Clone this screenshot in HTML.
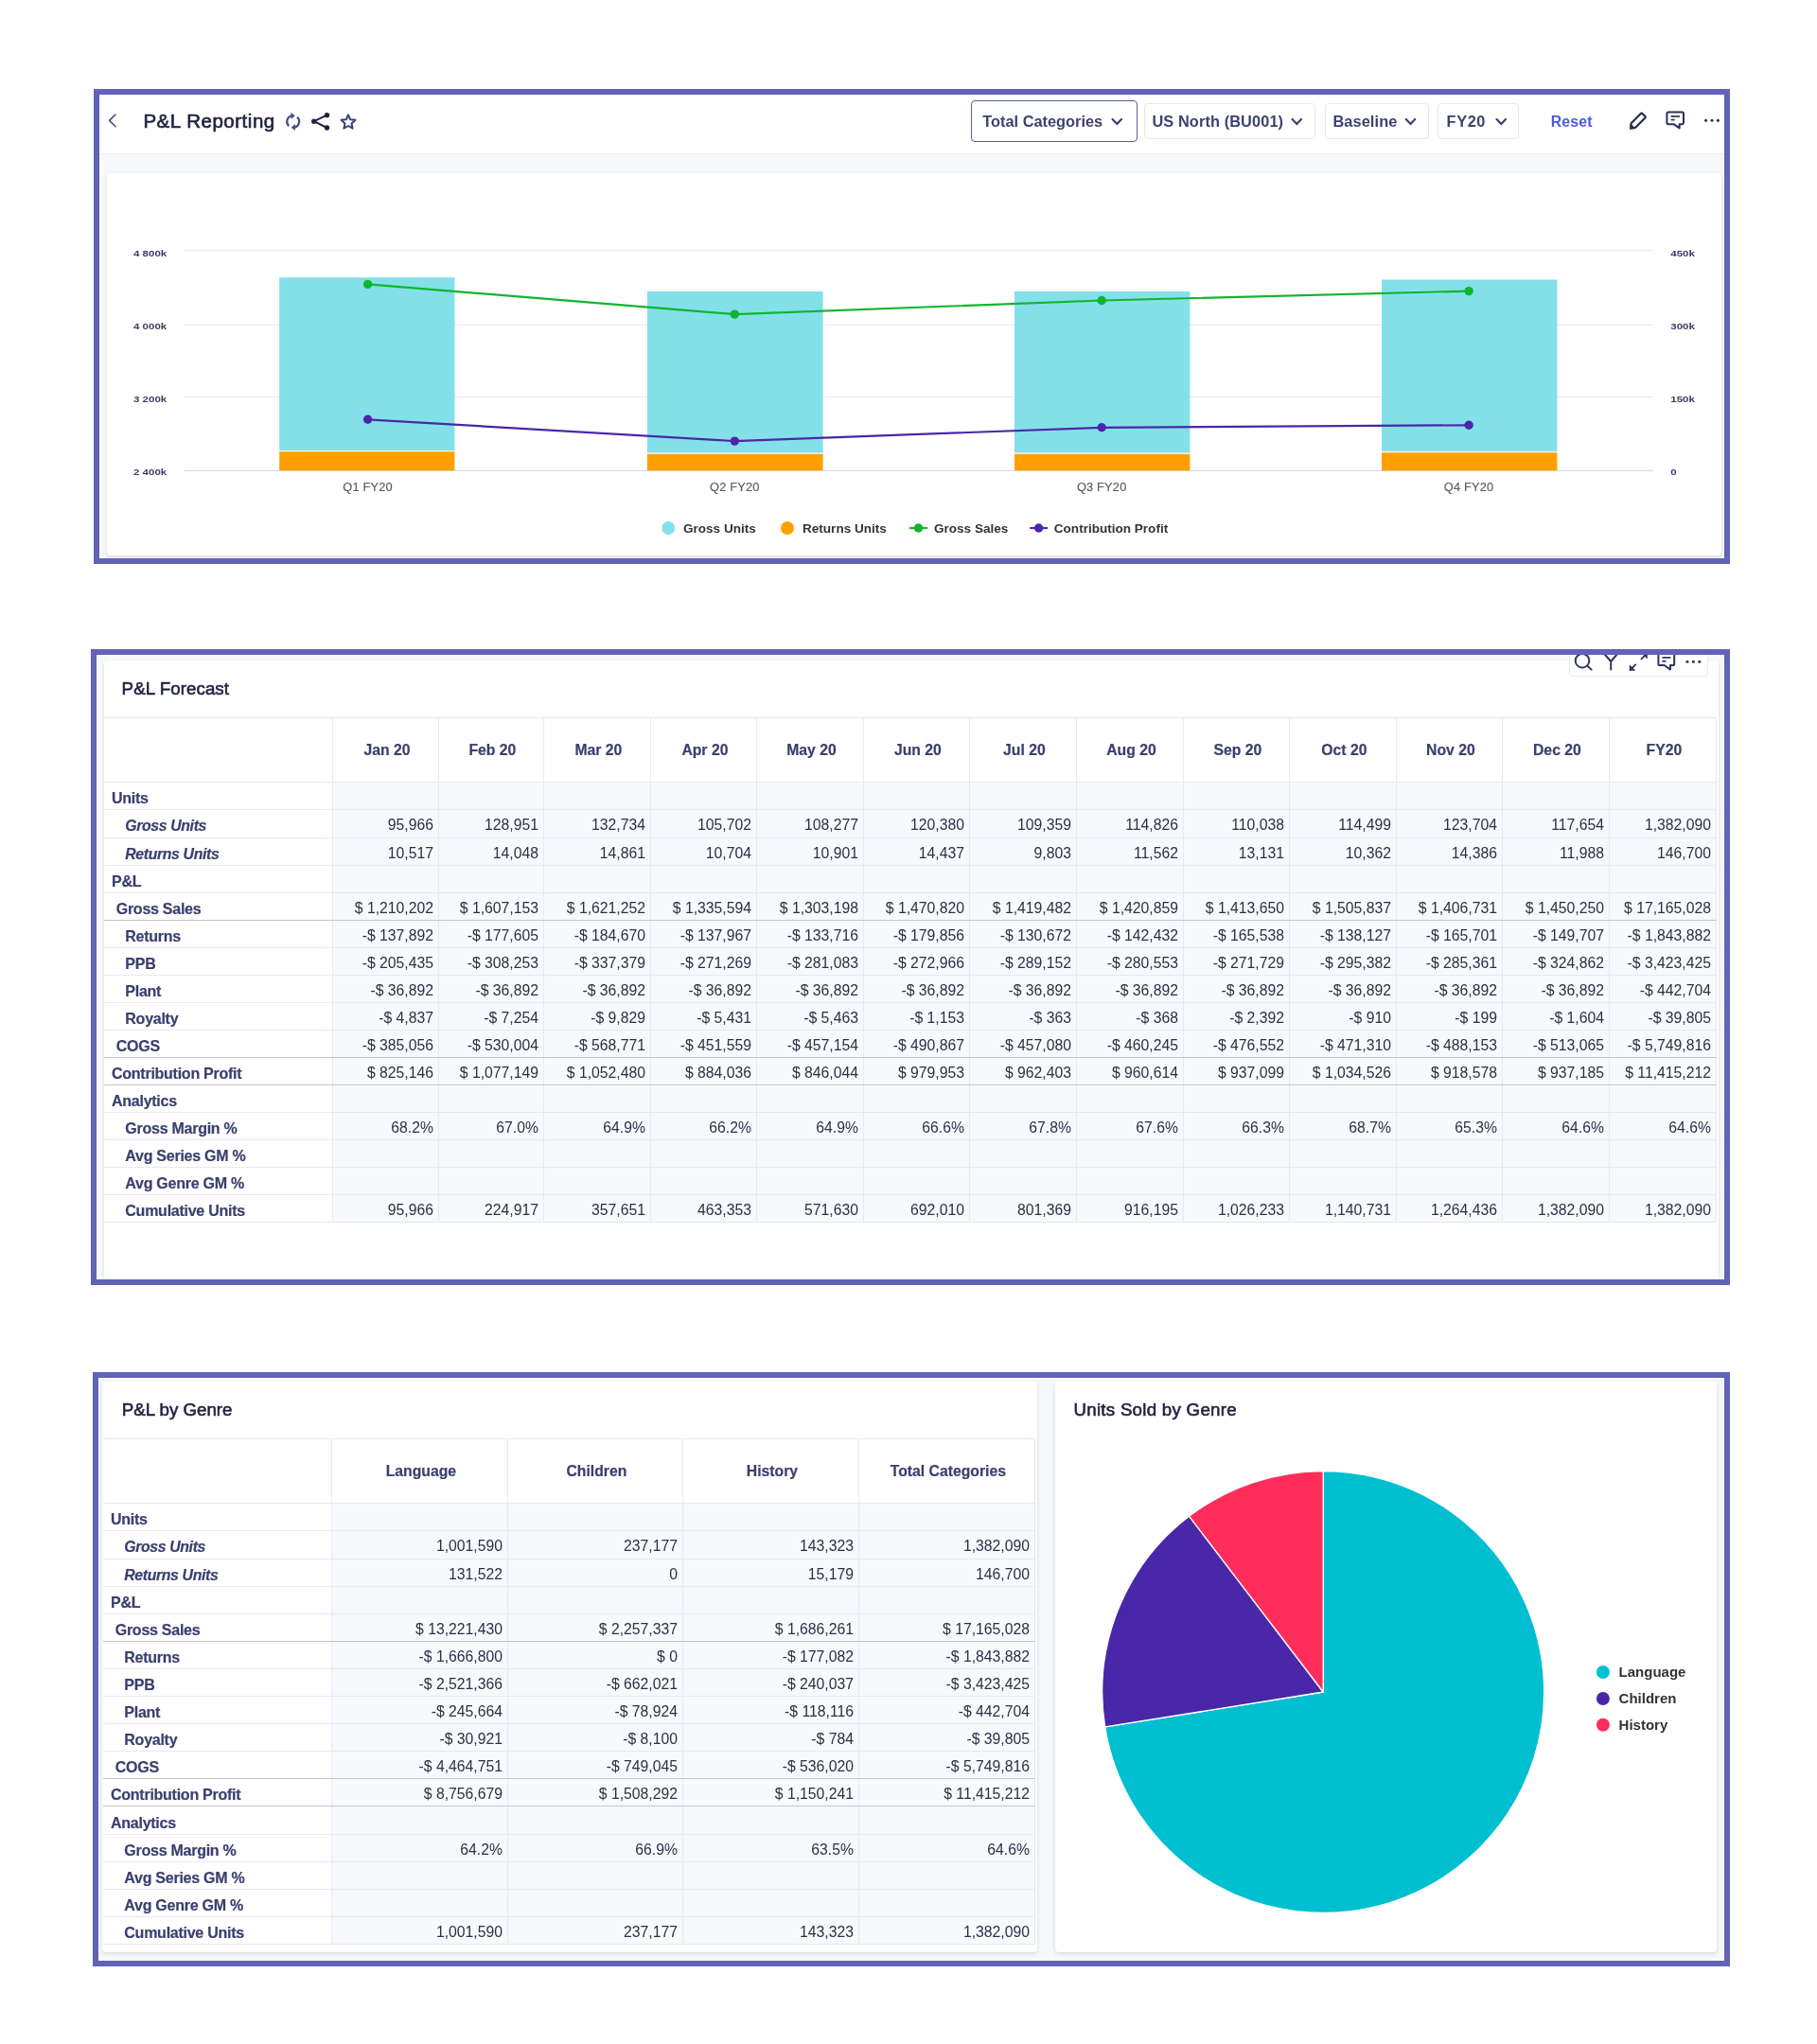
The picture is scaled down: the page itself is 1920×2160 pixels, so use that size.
<!DOCTYPE html>
<html lang="en">
<head>
<meta charset="utf-8">
<title>P&amp;L Reporting</title>
<style>

html,body{margin:0;padding:0;}
body{width:1920px;height:2160px;background:#fff;position:relative;overflow:hidden;
  font-family:"Liberation Sans",sans-serif;color:#1f2240;}
.frame{position:absolute;box-sizing:border-box;border:6px solid #6262b6;background:#f7f8fa;overflow:hidden;}
.pg{position:absolute;will-change:transform;}
.abs{position:absolute;}
.card{position:absolute;background:#fff;border-radius:4px;box-shadow:0 2px 4px rgba(20,20,50,.13),0 0 2px rgba(20,20,50,.045);}
.t{position:absolute;white-space:nowrap;line-height:1;}
.ctitle{font-size:18.7px;color:#1f2240;-webkit-text-stroke:.6px #1f2240;}
.dd{position:absolute;box-sizing:border-box;border:1px solid #e6e8f1;border-radius:4px;background:#fff;}
.ddt{font-size:16.35px;font-weight:bold;color:#3d4270;}
/* tables */
.row{position:absolute;left:0;display:flex;font-size:15.75px;box-sizing:border-box;border-bottom:1px solid #e7e9f4;}
.row.dk{border-bottom-color:#c3c6cf;}
.c{box-sizing:border-box;border-right:1px solid #e7e9f4;flex:none;height:100%;
  display:flex;align-items:center;justify-content:flex-end;padding-right:5px;color:#2c3142;background:#f8f9fd;white-space:nowrap;}
.c.l{justify-content:flex-start;padding-right:0;background:#fff;font-weight:bold;color:#3a3f6e;font-size:16.05px;letter-spacing:-.27px;-webkit-text-stroke:.2px #3a3f6e;}
.c.h{justify-content:center;padding-right:0;padding-left:2.8px;padding-top:1.4px;background:#fff;font-weight:bold;color:#3a3f6e;-webkit-text-stroke:.2px #3a3f6e;}
.c.l.i{font-style:italic;font-size:15.8px;letter-spacing:-.35px;}

</style>
</head>
<body>
<div class="frame" style="left:99px;top:94px;width:1729px;height:502px;">
<div class="pg" style="left:-105px;top:-100px;width:1920px;height:700px;">
<div class="abs" style="left:100px;top:94px;width:1730px;height:68px;background:#fff;border-bottom:1px solid #ececf2;"></div>
<div class="t" style="left:151.4px;top:118px;font-size:20.5px;letter-spacing:.52px;color:#1f2240;-webkit-text-stroke:.65px #1f2240;">P&amp;L Reporting</div>
<div class="dd" style="left:1026px;top:106px;width:176px;height:44px;border:1.5px solid #5a5f9c;border-radius:4px;"></div>
<div class="dd" style="left:1209px;top:109px;width:181px;height:38px;"></div>
<div class="dd" style="left:1399.5px;top:109px;width:110px;height:38px;"></div>
<div class="dd" style="left:1519px;top:109px;width:86px;height:38px;"></div>
<div class="t ddt" style="left:1038.3px;top:120.2px;">Total Categories</div>
<div class="t ddt" style="left:1217.4px;top:120.2px;letter-spacing:.1px;">US North (BU001)</div>
<div class="t ddt" style="left:1408.4px;top:120.2px;letter-spacing:.1px;">Baseline</div>
<div class="t ddt" style="left:1528.6px;top:120.2px;letter-spacing:.6px;">FY20</div>
<div class="t" style="left:1638.8px;top:120.5px;letter-spacing:.15px;font-size:15.8px;font-weight:bold;color:#4a5be0;">Reset</div>
<div class="card" style="left:113px;top:182.5px;width:1706px;height:404px;"></div>
<svg class="abs" style="left:0;top:0" width="1920" height="700" viewBox="0 0 1920 700">
<path d="M122 121 L115.6 127.4 L122 133.8" fill="none" stroke="#4a4f80" stroke-width="1.6" stroke-linecap="round" stroke-linejoin="round"/>
<g transform="translate(309.7 128.5)" fill="none" stroke="#474c85" stroke-width="2.2" stroke-linecap="butt"><path d="M-1.6 -6.2 A6.4 6.4 0 0 0 -4.4 4.7"/><path d="M1.6 6.2 A6.4 6.4 0 0 0 4.4 -4.7"/><path d="M-2.2 -9.6 L2 -6.2 L-2.2 -2.6 Z" fill="#474c85" stroke="none"/><path d="M2.2 9.6 L-2 6.2 L2.2 2.6 Z" fill="#474c85" stroke="none"/></g>
<g fill="#1f2240" stroke="#1f2240"><path d="M345.5 121.7 L331.8 128.2 L345.5 135" fill="none" stroke-width="2" stroke-linejoin="round"/><circle cx="345.5" cy="121.7" r="2.7" stroke="none"/><circle cx="331.8" cy="128.2" r="2.7" stroke="none"/><circle cx="345.5" cy="135" r="2.7" stroke="none"/></g>
<polygon points="368.00,121.40 370.17,126.31 375.51,126.86 371.52,130.44 372.64,135.69 368.00,133.00 363.36,135.69 364.48,130.44 360.49,126.86 365.83,126.31" fill="none" stroke="#3a3f75" stroke-width="2" stroke-linejoin="round"/>
<path d="M1175.55 126.10 L1180.30 131.10 L1185.05 126.10" fill="none" stroke="#3d4270" stroke-width="2.2" stroke-linecap="round" stroke-linejoin="round"/>
<path d="M1365.55 126.10 L1370.30 131.10 L1375.05 126.10" fill="none" stroke="#3d4270" stroke-width="2.2" stroke-linecap="round" stroke-linejoin="round"/>
<path d="M1485.75 126.10 L1490.50 131.10 L1495.25 126.10" fill="none" stroke="#3d4270" stroke-width="2.2" stroke-linecap="round" stroke-linejoin="round"/>
<path d="M1581.55 126.10 L1586.30 131.10 L1591.05 126.10" fill="none" stroke="#3d4270" stroke-width="2.2" stroke-linecap="round" stroke-linejoin="round"/>
<g fill="none" stroke="#2b2f55" stroke-width="2.3" stroke-linejoin="round" stroke-linecap="round"><path d="M1723 135.6 L1723.6 130.2 L1733.6 120.2 Q1734.6 119.2 1735.6 120.2 L1738.2 122.8 Q1739.2 123.8 1738.2 124.8 L1728.2 134.8 Z"/><path d="M1723 135.6 L1723.5 131.4 L1727.2 135.1 Z" fill="#2b2f55" stroke-width="1"/></g>
<g fill="none" stroke="#2b2f55" stroke-width="2" stroke-linejoin="round" stroke-linecap="butt"><path d="M1763 118.4 H1777.4 Q1779 118.4 1779 120 V129.6 Q1779 131.2 1777.4 131.2 H1774.6 V135.4 L1768.4 131.2 H1763 Q1761.4 131.2 1761.4 129.6 V120 Q1761.4 118.4 1763 118.4 Z"/><path d="M1765.6 123 H1775" stroke-width="1.7"/><path d="M1765.6 126.6 H1769.6" stroke-width="1.7"/></g>
<circle cx="1802.6" cy="127.2" r="1.55" fill="#2b2f55"/>
<circle cx="1809" cy="127.2" r="1.55" fill="#2b2f55"/>
<circle cx="1815.4" cy="127.2" r="1.55" fill="#2b2f55"/>
<rect x="194.7" y="264.20" width="1552.3" height="1" fill="#e6e6e6"/>
<rect x="194.7" y="342.70" width="1552.3" height="1" fill="#e6e6e6"/>
<rect x="194.7" y="419.00" width="1552.3" height="1" fill="#e6e6e6"/>
<rect x="194.7" y="496.80" width="1552.3" height="1" fill="#ccd6eb"/>
<rect x="295.2" y="293.2" width="185.2" height="182.8" fill="#84e0e8"/>
<rect x="295.2" y="476.0" width="185.2" height="1.3" fill="#fdf3d8"/>
<rect x="295.2" y="477.3" width="185.2" height="20.0" fill="#ffa000"/>
<rect x="683.9" y="307.9" width="185.7" height="170.7" fill="#84e0e8"/>
<rect x="683.9" y="478.6" width="185.7" height="1.3" fill="#fdf3d8"/>
<rect x="683.9" y="479.9" width="185.7" height="17.4" fill="#ffa000"/>
<rect x="1072.0" y="307.9" width="185.4" height="170.7" fill="#84e0e8"/>
<rect x="1072.0" y="478.6" width="185.4" height="1.3" fill="#fdf3d8"/>
<rect x="1072.0" y="479.9" width="185.4" height="17.4" fill="#ffa000"/>
<rect x="1460.0" y="295.5" width="185.4" height="181.4" fill="#84e0e8"/>
<rect x="1460.0" y="476.9" width="185.4" height="1.5" fill="#fdf3d8"/>
<rect x="1460.0" y="478.4" width="185.4" height="18.9" fill="#ffa000"/>
<polyline points="388.6,300.4 776.3,332.1 1164.2,317.5 1552.1,307.6" fill="none" stroke="#0fb52e" stroke-width="2.2" stroke-linejoin="round" stroke-linecap="round"/>
<circle cx="388.6" cy="300.4" r="4.7" fill="#0fb52e"/>
<circle cx="776.3" cy="332.1" r="4.7" fill="#0fb52e"/>
<circle cx="1164.2" cy="317.5" r="4.7" fill="#0fb52e"/>
<circle cx="1552.1" cy="307.6" r="4.7" fill="#0fb52e"/>
<polyline points="388.6,443.3 776.3,466.1 1164.2,451.8 1552.1,449.3" fill="none" stroke="#4a27a8" stroke-width="2.2" stroke-linejoin="round" stroke-linecap="round"/>
<circle cx="388.6" cy="443.3" r="4.7" fill="#4a27a8"/>
<circle cx="776.3" cy="466.1" r="4.7" fill="#4a27a8"/>
<circle cx="1164.2" cy="451.8" r="4.7" fill="#4a27a8"/>
<circle cx="1552.1" cy="449.3" r="4.7" fill="#4a27a8"/>
<circle cx="706.2" cy="558" r="7" fill="#84e0e8"/>
<circle cx="832" cy="558" r="7" fill="#ffa000"/>
<path d="M961 558 H980" stroke="#0fb52e" stroke-width="2.2"/><circle cx="970.5" cy="558" r="4.7" fill="#0fb52e"/>
<path d="M1088.2 558 H1107" stroke="#4a27a8" stroke-width="2.2"/><circle cx="1097.6" cy="558" r="4.7" fill="#4a27a8"/>
</svg>
<div class="t" style="left:141px;top:262.3px;font-size:11.5px;font-weight:bold;color:#3d3d66;transform:scaleY(.86);transform-origin:50% 50%;">4 800k</div>
<div class="t" style="left:141px;top:338.6px;font-size:11.5px;font-weight:bold;color:#3d3d66;transform:scaleY(.86);transform-origin:50% 50%;">4 000k</div>
<div class="t" style="left:141px;top:416.0px;font-size:11.5px;font-weight:bold;color:#3d3d66;transform:scaleY(.86);transform-origin:50% 50%;">3 200k</div>
<div class="t" style="left:141px;top:493.4px;font-size:11.5px;font-weight:bold;color:#3d3d66;transform:scaleY(.86);transform-origin:50% 50%;">2 400k</div>
<div class="t" style="left:1765.3px;top:262.3px;font-size:11.5px;font-weight:bold;color:#3d3d66;transform:scaleY(.86);transform-origin:50% 50%;">450k</div>
<div class="t" style="left:1765.3px;top:338.6px;font-size:11.5px;font-weight:bold;color:#3d3d66;transform:scaleY(.86);transform-origin:50% 50%;">300k</div>
<div class="t" style="left:1765.3px;top:416.0px;font-size:11.5px;font-weight:bold;color:#3d3d66;transform:scaleY(.86);transform-origin:50% 50%;">150k</div>
<div class="t" style="left:1765.3px;top:493.4px;font-size:11.5px;font-weight:bold;color:#3d3d66;transform:scaleY(.86);transform-origin:50% 50%;">0</div>
<div class="t" style="left:348.6px;width:80px;text-align:center;top:508.8px;font-size:12.8px;letter-spacing:.2px;color:#5c5c5c;-webkit-text-stroke:.15px #5c5c5c;">Q1 FY20</div>
<div class="t" style="left:736.3px;width:80px;text-align:center;top:508.8px;font-size:12.8px;letter-spacing:.2px;color:#5c5c5c;-webkit-text-stroke:.15px #5c5c5c;">Q2 FY20</div>
<div class="t" style="left:1124.2px;width:80px;text-align:center;top:508.8px;font-size:12.8px;letter-spacing:.2px;color:#5c5c5c;-webkit-text-stroke:.15px #5c5c5c;">Q3 FY20</div>
<div class="t" style="left:1512.1px;width:80px;text-align:center;top:508.8px;font-size:12.8px;letter-spacing:.2px;color:#5c5c5c;-webkit-text-stroke:.15px #5c5c5c;">Q4 FY20</div>
<div class="t" style="left:722px;font-size:13.55px;font-weight:bold;color:#333;top:551.8px;">Gross Units</div>
<div class="t" style="left:848px;font-size:13.55px;font-weight:bold;color:#333;top:551.8px;">Returns Units</div>
<div class="t" style="left:987px;font-size:13.55px;font-weight:bold;color:#333;top:551.8px;">Gross Sales</div>
<div class="t" style="left:1113.8px;font-size:13.55px;font-weight:bold;color:#333;top:551.8px;">Contribution Profit</div>
</div></div>
<div class="frame" style="left:96px;top:686px;width:1732px;height:672px;">
<div class="pg" style="left:-102px;top:-692px;width:1920px;height:1500px;">
<div class="card" style="left:109.5px;top:697.6px;width:1706.5px;height:720px;"></div>
<div class="abs" style="left:1658px;top:684px;width:147px;height:31px;box-sizing:border-box;border:1px solid #e8eaf2;border-radius:3px;background:#fff;"></div>
<svg class="abs" style="left:0;top:600px" width="1920" height="200" viewBox="0 600 1920 200">
<circle cx="1672" cy="698.2" r="7.3" fill="none" stroke="#2f3460" stroke-width="2"/>
<path d="M1677.4 703.6 L1681.6 707.6" stroke="#2f3460" stroke-width="2" stroke-linecap="round"/>
<path d="M1693.6 689 L1702.2 699 L1710.8 689 M1702.2 699 V707.6" fill="none" stroke="#2f3460" stroke-width="2" stroke-linecap="round" stroke-linejoin="round"/>
<path d="M1728.2 702.4 L1722.6 708" stroke="#2f3460" stroke-width="1.8" stroke-linecap="round"/>
<path d="M1721.8 702.2 V708.8 H1728.4 Z" fill="#2f3460"/>
<path d="M1734.4 696.4 L1740 690.8" stroke="#2f3460" stroke-width="1.8" stroke-linecap="round"/>
<path d="M1740.8 696.6 V690 H1734.2 Z" fill="#2f3460"/>
<g fill="none" stroke="#2f3460" stroke-width="2" stroke-linejoin="round"><path d="M1754 689.6 H1767.6 Q1769.2 689.6 1769.2 691.2 V701.4 Q1769.2 703 1767.6 703 H1765 V707.6 L1758.6 703 H1754 Q1752.4 703 1752.4 701.4 V691.2 Q1752.4 689.6 1754 689.6 Z"/><path d="M1756.4 694.9 H1765.4" stroke-width="1.7"/><path d="M1756.4 698.8 H1760.4" stroke-width="1.7"/></g>
<circle cx="1783" cy="699.3" r="1.55" fill="#2f3460"/>
<circle cx="1789.4" cy="699.3" r="1.55" fill="#2f3460"/>
<circle cx="1795.8" cy="699.3" r="1.55" fill="#2f3460"/>
</svg>
<div class="t ctitle" style="left:128.6px;top:719px;letter-spacing:.08px;">P&amp;L Forecast</div>
<div class="abs" style="left:110px;top:758px;width:1704px;height:1px;background:#e7e9f4;"></div>
<div class="row" style="left:110px;top:759px;width:1704px;height:68px;">
<div class="c h" style="width:242px;"></div>
<div class="c h" style="width:112px;">Jan 20</div>
<div class="c h" style="width:111px;">Feb 20</div>
<div class="c h" style="width:113px;">Mar 20</div>
<div class="c h" style="width:112px;">Apr 20</div>
<div class="c h" style="width:113px;">May 20</div>
<div class="c h" style="width:112px;">Jun 20</div>
<div class="c h" style="width:113px;">Jul 20</div>
<div class="c h" style="width:113px;">Aug 20</div>
<div class="c h" style="width:112px;">Sep 20</div>
<div class="c h" style="width:113px;">Oct 20</div>
<div class="c h" style="width:112px;">Nov 20</div>
<div class="c h" style="width:113px;">Dec 20</div>
<div class="c h" style="width:113px;">FY20</div>
</div>
<div class="row" style="left:110px;top:827px;width:1704px;height:29px;">
<div class="c l" style="width:242px;padding-left:8px;padding-top:5.8px;">Units</div>
<div class="c" style="width:112px;padding-top:3.4px;"></div>
<div class="c" style="width:111px;padding-top:3.4px;"></div>
<div class="c" style="width:113px;padding-top:3.4px;"></div>
<div class="c" style="width:112px;padding-top:3.4px;"></div>
<div class="c" style="width:113px;padding-top:3.4px;"></div>
<div class="c" style="width:112px;padding-top:3.4px;"></div>
<div class="c" style="width:113px;padding-top:3.4px;"></div>
<div class="c" style="width:113px;padding-top:3.4px;"></div>
<div class="c" style="width:112px;padding-top:3.4px;"></div>
<div class="c" style="width:113px;padding-top:3.4px;"></div>
<div class="c" style="width:112px;padding-top:3.4px;"></div>
<div class="c" style="width:113px;padding-top:3.4px;"></div>
<div class="c" style="width:113px;padding-top:3.4px;"></div>
</div>
<div class="row" style="left:110px;top:856px;width:1704px;height:30px;">
<div class="c l i" style="width:242px;padding-left:22.3px;padding-top:5.8px;">Gross Units</div>
<div class="c" style="width:112px;padding-top:3.4px;">95,966</div>
<div class="c" style="width:111px;padding-top:3.4px;">128,951</div>
<div class="c" style="width:113px;padding-top:3.4px;">132,734</div>
<div class="c" style="width:112px;padding-top:3.4px;">105,702</div>
<div class="c" style="width:113px;padding-top:3.4px;">108,277</div>
<div class="c" style="width:112px;padding-top:3.4px;">120,380</div>
<div class="c" style="width:113px;padding-top:3.4px;">109,359</div>
<div class="c" style="width:113px;padding-top:3.4px;">114,826</div>
<div class="c" style="width:112px;padding-top:3.4px;">110,038</div>
<div class="c" style="width:113px;padding-top:3.4px;">114,499</div>
<div class="c" style="width:112px;padding-top:3.4px;">123,704</div>
<div class="c" style="width:113px;padding-top:3.4px;">117,654</div>
<div class="c" style="width:113px;padding-top:3.4px;">1,382,090</div>
</div>
<div class="row" style="left:110px;top:886px;width:1704px;height:29px;">
<div class="c l i" style="width:242px;padding-left:22.3px;padding-top:5.8px;">Returns Units</div>
<div class="c" style="width:112px;padding-top:3.4px;">10,517</div>
<div class="c" style="width:111px;padding-top:3.4px;">14,048</div>
<div class="c" style="width:113px;padding-top:3.4px;">14,861</div>
<div class="c" style="width:112px;padding-top:3.4px;">10,704</div>
<div class="c" style="width:113px;padding-top:3.4px;">10,901</div>
<div class="c" style="width:112px;padding-top:3.4px;">14,437</div>
<div class="c" style="width:113px;padding-top:3.4px;">9,803</div>
<div class="c" style="width:113px;padding-top:3.4px;">11,562</div>
<div class="c" style="width:112px;padding-top:3.4px;">13,131</div>
<div class="c" style="width:113px;padding-top:3.4px;">10,362</div>
<div class="c" style="width:112px;padding-top:3.4px;">14,386</div>
<div class="c" style="width:113px;padding-top:3.4px;">11,988</div>
<div class="c" style="width:113px;padding-top:3.4px;">146,700</div>
</div>
<div class="row" style="left:110px;top:915px;width:1704px;height:29px;">
<div class="c l" style="width:242px;padding-left:8px;padding-top:5.8px;">P&amp;L</div>
<div class="c" style="width:112px;padding-top:3.4px;"></div>
<div class="c" style="width:111px;padding-top:3.4px;"></div>
<div class="c" style="width:113px;padding-top:3.4px;"></div>
<div class="c" style="width:112px;padding-top:3.4px;"></div>
<div class="c" style="width:113px;padding-top:3.4px;"></div>
<div class="c" style="width:112px;padding-top:3.4px;"></div>
<div class="c" style="width:113px;padding-top:3.4px;"></div>
<div class="c" style="width:113px;padding-top:3.4px;"></div>
<div class="c" style="width:112px;padding-top:3.4px;"></div>
<div class="c" style="width:113px;padding-top:3.4px;"></div>
<div class="c" style="width:112px;padding-top:3.4px;"></div>
<div class="c" style="width:113px;padding-top:3.4px;"></div>
<div class="c" style="width:113px;padding-top:3.4px;"></div>
</div>
<div class="row dk" style="left:110px;top:944px;width:1704px;height:29px;">
<div class="c l" style="width:242px;padding-left:12.7px;padding-top:5.8px;">Gross Sales</div>
<div class="c" style="width:112px;padding-top:3.4px;">$ 1,210,202</div>
<div class="c" style="width:111px;padding-top:3.4px;">$ 1,607,153</div>
<div class="c" style="width:113px;padding-top:3.4px;">$ 1,621,252</div>
<div class="c" style="width:112px;padding-top:3.4px;">$ 1,335,594</div>
<div class="c" style="width:113px;padding-top:3.4px;">$ 1,303,198</div>
<div class="c" style="width:112px;padding-top:3.4px;">$ 1,470,820</div>
<div class="c" style="width:113px;padding-top:3.4px;">$ 1,419,482</div>
<div class="c" style="width:113px;padding-top:3.4px;">$ 1,420,859</div>
<div class="c" style="width:112px;padding-top:3.4px;">$ 1,413,650</div>
<div class="c" style="width:113px;padding-top:3.4px;">$ 1,505,837</div>
<div class="c" style="width:112px;padding-top:3.4px;">$ 1,406,731</div>
<div class="c" style="width:113px;padding-top:3.4px;">$ 1,450,250</div>
<div class="c" style="width:113px;padding-top:3.4px;">$ 17,165,028</div>
</div>
<div class="row" style="left:110px;top:973px;width:1704px;height:29px;">
<div class="c l" style="width:242px;padding-left:22.3px;padding-top:5.8px;">Returns</div>
<div class="c" style="width:112px;padding-top:3.4px;">-$ 137,892</div>
<div class="c" style="width:111px;padding-top:3.4px;">-$ 177,605</div>
<div class="c" style="width:113px;padding-top:3.4px;">-$ 184,670</div>
<div class="c" style="width:112px;padding-top:3.4px;">-$ 137,967</div>
<div class="c" style="width:113px;padding-top:3.4px;">-$ 133,716</div>
<div class="c" style="width:112px;padding-top:3.4px;">-$ 179,856</div>
<div class="c" style="width:113px;padding-top:3.4px;">-$ 130,672</div>
<div class="c" style="width:113px;padding-top:3.4px;">-$ 142,432</div>
<div class="c" style="width:112px;padding-top:3.4px;">-$ 165,538</div>
<div class="c" style="width:113px;padding-top:3.4px;">-$ 138,127</div>
<div class="c" style="width:112px;padding-top:3.4px;">-$ 165,701</div>
<div class="c" style="width:113px;padding-top:3.4px;">-$ 149,707</div>
<div class="c" style="width:113px;padding-top:3.4px;">-$ 1,843,882</div>
</div>
<div class="row" style="left:110px;top:1002px;width:1704px;height:29px;">
<div class="c l" style="width:242px;padding-left:22.3px;padding-top:5.8px;">PPB</div>
<div class="c" style="width:112px;padding-top:3.4px;">-$ 205,435</div>
<div class="c" style="width:111px;padding-top:3.4px;">-$ 308,253</div>
<div class="c" style="width:113px;padding-top:3.4px;">-$ 337,379</div>
<div class="c" style="width:112px;padding-top:3.4px;">-$ 271,269</div>
<div class="c" style="width:113px;padding-top:3.4px;">-$ 281,083</div>
<div class="c" style="width:112px;padding-top:3.4px;">-$ 272,966</div>
<div class="c" style="width:113px;padding-top:3.4px;">-$ 289,152</div>
<div class="c" style="width:113px;padding-top:3.4px;">-$ 280,553</div>
<div class="c" style="width:112px;padding-top:3.4px;">-$ 271,729</div>
<div class="c" style="width:113px;padding-top:3.4px;">-$ 295,382</div>
<div class="c" style="width:112px;padding-top:3.4px;">-$ 285,361</div>
<div class="c" style="width:113px;padding-top:3.4px;">-$ 324,862</div>
<div class="c" style="width:113px;padding-top:3.4px;">-$ 3,423,425</div>
</div>
<div class="row" style="left:110px;top:1031px;width:1704px;height:29px;">
<div class="c l" style="width:242px;padding-left:22.3px;padding-top:5.8px;">Plant</div>
<div class="c" style="width:112px;padding-top:3.4px;">-$ 36,892</div>
<div class="c" style="width:111px;padding-top:3.4px;">-$ 36,892</div>
<div class="c" style="width:113px;padding-top:3.4px;">-$ 36,892</div>
<div class="c" style="width:112px;padding-top:3.4px;">-$ 36,892</div>
<div class="c" style="width:113px;padding-top:3.4px;">-$ 36,892</div>
<div class="c" style="width:112px;padding-top:3.4px;">-$ 36,892</div>
<div class="c" style="width:113px;padding-top:3.4px;">-$ 36,892</div>
<div class="c" style="width:113px;padding-top:3.4px;">-$ 36,892</div>
<div class="c" style="width:112px;padding-top:3.4px;">-$ 36,892</div>
<div class="c" style="width:113px;padding-top:3.4px;">-$ 36,892</div>
<div class="c" style="width:112px;padding-top:3.4px;">-$ 36,892</div>
<div class="c" style="width:113px;padding-top:3.4px;">-$ 36,892</div>
<div class="c" style="width:113px;padding-top:3.4px;">-$ 442,704</div>
</div>
<div class="row" style="left:110px;top:1060px;width:1704px;height:29px;">
<div class="c l" style="width:242px;padding-left:22.3px;padding-top:5.8px;">Royalty</div>
<div class="c" style="width:112px;padding-top:3.4px;">-$ 4,837</div>
<div class="c" style="width:111px;padding-top:3.4px;">-$ 7,254</div>
<div class="c" style="width:113px;padding-top:3.4px;">-$ 9,829</div>
<div class="c" style="width:112px;padding-top:3.4px;">-$ 5,431</div>
<div class="c" style="width:113px;padding-top:3.4px;">-$ 5,463</div>
<div class="c" style="width:112px;padding-top:3.4px;">-$ 1,153</div>
<div class="c" style="width:113px;padding-top:3.4px;">-$ 363</div>
<div class="c" style="width:113px;padding-top:3.4px;">-$ 368</div>
<div class="c" style="width:112px;padding-top:3.4px;">-$ 2,392</div>
<div class="c" style="width:113px;padding-top:3.4px;">-$ 910</div>
<div class="c" style="width:112px;padding-top:3.4px;">-$ 199</div>
<div class="c" style="width:113px;padding-top:3.4px;">-$ 1,604</div>
<div class="c" style="width:113px;padding-top:3.4px;">-$ 39,805</div>
</div>
<div class="row dk" style="left:110px;top:1089px;width:1704px;height:29px;">
<div class="c l" style="width:242px;padding-left:12.7px;padding-top:5.8px;">COGS</div>
<div class="c" style="width:112px;padding-top:3.4px;">-$ 385,056</div>
<div class="c" style="width:111px;padding-top:3.4px;">-$ 530,004</div>
<div class="c" style="width:113px;padding-top:3.4px;">-$ 568,771</div>
<div class="c" style="width:112px;padding-top:3.4px;">-$ 451,559</div>
<div class="c" style="width:113px;padding-top:3.4px;">-$ 457,154</div>
<div class="c" style="width:112px;padding-top:3.4px;">-$ 490,867</div>
<div class="c" style="width:113px;padding-top:3.4px;">-$ 457,080</div>
<div class="c" style="width:113px;padding-top:3.4px;">-$ 460,245</div>
<div class="c" style="width:112px;padding-top:3.4px;">-$ 476,552</div>
<div class="c" style="width:113px;padding-top:3.4px;">-$ 471,310</div>
<div class="c" style="width:112px;padding-top:3.4px;">-$ 488,153</div>
<div class="c" style="width:113px;padding-top:3.4px;">-$ 513,065</div>
<div class="c" style="width:113px;padding-top:3.4px;">-$ 5,749,816</div>
</div>
<div class="row dk" style="left:110px;top:1118px;width:1704px;height:29px;">
<div class="c l" style="width:242px;padding-left:8px;padding-top:5.8px;">Contribution Profit</div>
<div class="c" style="width:112px;padding-top:3.4px;">$ 825,146</div>
<div class="c" style="width:111px;padding-top:3.4px;">$ 1,077,149</div>
<div class="c" style="width:113px;padding-top:3.4px;">$ 1,052,480</div>
<div class="c" style="width:112px;padding-top:3.4px;">$ 884,036</div>
<div class="c" style="width:113px;padding-top:3.4px;">$ 846,044</div>
<div class="c" style="width:112px;padding-top:3.4px;">$ 979,953</div>
<div class="c" style="width:113px;padding-top:3.4px;">$ 962,403</div>
<div class="c" style="width:113px;padding-top:3.4px;">$ 960,614</div>
<div class="c" style="width:112px;padding-top:3.4px;">$ 937,099</div>
<div class="c" style="width:113px;padding-top:3.4px;">$ 1,034,526</div>
<div class="c" style="width:112px;padding-top:3.4px;">$ 918,578</div>
<div class="c" style="width:113px;padding-top:3.4px;">$ 937,185</div>
<div class="c" style="width:113px;padding-top:3.4px;">$ 11,415,212</div>
</div>
<div class="row" style="left:110px;top:1147px;width:1704px;height:29px;">
<div class="c l" style="width:242px;padding-left:8px;padding-top:5.8px;">Analytics</div>
<div class="c" style="width:112px;padding-top:3.4px;"></div>
<div class="c" style="width:111px;padding-top:3.4px;"></div>
<div class="c" style="width:113px;padding-top:3.4px;"></div>
<div class="c" style="width:112px;padding-top:3.4px;"></div>
<div class="c" style="width:113px;padding-top:3.4px;"></div>
<div class="c" style="width:112px;padding-top:3.4px;"></div>
<div class="c" style="width:113px;padding-top:3.4px;"></div>
<div class="c" style="width:113px;padding-top:3.4px;"></div>
<div class="c" style="width:112px;padding-top:3.4px;"></div>
<div class="c" style="width:113px;padding-top:3.4px;"></div>
<div class="c" style="width:112px;padding-top:3.4px;"></div>
<div class="c" style="width:113px;padding-top:3.4px;"></div>
<div class="c" style="width:113px;padding-top:3.4px;"></div>
</div>
<div class="row" style="left:110px;top:1176px;width:1704px;height:29px;">
<div class="c l" style="width:242px;padding-left:22.3px;padding-top:5.8px;">Gross Margin %</div>
<div class="c" style="width:112px;padding-top:3.4px;">68.2%</div>
<div class="c" style="width:111px;padding-top:3.4px;">67.0%</div>
<div class="c" style="width:113px;padding-top:3.4px;">64.9%</div>
<div class="c" style="width:112px;padding-top:3.4px;">66.2%</div>
<div class="c" style="width:113px;padding-top:3.4px;">64.9%</div>
<div class="c" style="width:112px;padding-top:3.4px;">66.6%</div>
<div class="c" style="width:113px;padding-top:3.4px;">67.8%</div>
<div class="c" style="width:113px;padding-top:3.4px;">67.6%</div>
<div class="c" style="width:112px;padding-top:3.4px;">66.3%</div>
<div class="c" style="width:113px;padding-top:3.4px;">68.7%</div>
<div class="c" style="width:112px;padding-top:3.4px;">65.3%</div>
<div class="c" style="width:113px;padding-top:3.4px;">64.6%</div>
<div class="c" style="width:113px;padding-top:3.4px;">64.6%</div>
</div>
<div class="row" style="left:110px;top:1205px;width:1704px;height:29px;">
<div class="c l" style="width:242px;padding-left:22.3px;padding-top:5.8px;">Avg Series GM %</div>
<div class="c" style="width:112px;padding-top:3.4px;"></div>
<div class="c" style="width:111px;padding-top:3.4px;"></div>
<div class="c" style="width:113px;padding-top:3.4px;"></div>
<div class="c" style="width:112px;padding-top:3.4px;"></div>
<div class="c" style="width:113px;padding-top:3.4px;"></div>
<div class="c" style="width:112px;padding-top:3.4px;"></div>
<div class="c" style="width:113px;padding-top:3.4px;"></div>
<div class="c" style="width:113px;padding-top:3.4px;"></div>
<div class="c" style="width:112px;padding-top:3.4px;"></div>
<div class="c" style="width:113px;padding-top:3.4px;"></div>
<div class="c" style="width:112px;padding-top:3.4px;"></div>
<div class="c" style="width:113px;padding-top:3.4px;"></div>
<div class="c" style="width:113px;padding-top:3.4px;"></div>
</div>
<div class="row" style="left:110px;top:1234px;width:1704px;height:29px;">
<div class="c l" style="width:242px;padding-left:22.3px;padding-top:5.8px;">Avg Genre GM %</div>
<div class="c" style="width:112px;padding-top:3.4px;"></div>
<div class="c" style="width:111px;padding-top:3.4px;"></div>
<div class="c" style="width:113px;padding-top:3.4px;"></div>
<div class="c" style="width:112px;padding-top:3.4px;"></div>
<div class="c" style="width:113px;padding-top:3.4px;"></div>
<div class="c" style="width:112px;padding-top:3.4px;"></div>
<div class="c" style="width:113px;padding-top:3.4px;"></div>
<div class="c" style="width:113px;padding-top:3.4px;"></div>
<div class="c" style="width:112px;padding-top:3.4px;"></div>
<div class="c" style="width:113px;padding-top:3.4px;"></div>
<div class="c" style="width:112px;padding-top:3.4px;"></div>
<div class="c" style="width:113px;padding-top:3.4px;"></div>
<div class="c" style="width:113px;padding-top:3.4px;"></div>
</div>
<div class="row" style="left:110px;top:1263px;width:1704px;height:29px;">
<div class="c l" style="width:242px;padding-left:22.3px;padding-top:5.8px;">Cumulative Units</div>
<div class="c" style="width:112px;padding-top:3.4px;">95,966</div>
<div class="c" style="width:111px;padding-top:3.4px;">224,917</div>
<div class="c" style="width:113px;padding-top:3.4px;">357,651</div>
<div class="c" style="width:112px;padding-top:3.4px;">463,353</div>
<div class="c" style="width:113px;padding-top:3.4px;">571,630</div>
<div class="c" style="width:112px;padding-top:3.4px;">692,010</div>
<div class="c" style="width:113px;padding-top:3.4px;">801,369</div>
<div class="c" style="width:113px;padding-top:3.4px;">916,195</div>
<div class="c" style="width:112px;padding-top:3.4px;">1,026,233</div>
<div class="c" style="width:113px;padding-top:3.4px;">1,140,731</div>
<div class="c" style="width:112px;padding-top:3.4px;">1,264,436</div>
<div class="c" style="width:113px;padding-top:3.4px;">1,382,090</div>
<div class="c" style="width:113px;padding-top:3.4px;">1,382,090</div>
</div>
</div></div>
<div class="frame" style="left:98px;top:1450px;width:1730px;height:628px;">
<div class="pg" style="left:-104px;top:-1456px;width:1920px;height:2160px;">
<div class="card" style="left:108.4px;top:1460px;width:987.3px;height:603.4px;"></div>
<div class="card" style="left:1114.6px;top:1460px;width:699.7px;height:603.2px;"></div>
<div class="t ctitle" style="left:128.8px;top:1481px;">P&amp;L by Genre</div>
<div class="t ctitle" style="left:1134.5px;top:1481.2px;letter-spacing:.27px;">Units Sold by Genre</div>
<div class="abs" style="left:109px;top:1520px;width:985px;height:1px;background:#e7e9f4;"></div>
<div class="row" style="left:109px;top:1521px;width:985px;height:68px;">
<div class="c h" style="width:242px;"></div>
<div class="c h" style="width:186px;">Language</div>
<div class="c h" style="width:185px;">Children</div>
<div class="c h" style="width:186px;">History</div>
<div class="c h" style="width:186px;">Total Categories</div>
</div>
<div class="row" style="left:109px;top:1589px;width:985px;height:29px;">
<div class="c l" style="width:242px;padding-left:8px;padding-top:5.8px;">Units</div>
<div class="c" style="width:186px;padding-top:3.4px;"></div>
<div class="c" style="width:185px;padding-top:3.4px;"></div>
<div class="c" style="width:186px;padding-top:3.4px;"></div>
<div class="c" style="width:186px;padding-top:3.4px;"></div>
</div>
<div class="row" style="left:109px;top:1618px;width:985px;height:30px;">
<div class="c l i" style="width:242px;padding-left:22.3px;padding-top:5.8px;">Gross Units</div>
<div class="c" style="width:186px;padding-top:3.4px;">1,001,590</div>
<div class="c" style="width:185px;padding-top:3.4px;">237,177</div>
<div class="c" style="width:186px;padding-top:3.4px;">143,323</div>
<div class="c" style="width:186px;padding-top:3.4px;">1,382,090</div>
</div>
<div class="row" style="left:109px;top:1648px;width:985px;height:29px;">
<div class="c l i" style="width:242px;padding-left:22.3px;padding-top:5.8px;">Returns Units</div>
<div class="c" style="width:186px;padding-top:3.4px;">131,522</div>
<div class="c" style="width:185px;padding-top:3.4px;">0</div>
<div class="c" style="width:186px;padding-top:3.4px;">15,179</div>
<div class="c" style="width:186px;padding-top:3.4px;">146,700</div>
</div>
<div class="row" style="left:109px;top:1677px;width:985px;height:29px;">
<div class="c l" style="width:242px;padding-left:8px;padding-top:5.8px;">P&amp;L</div>
<div class="c" style="width:186px;padding-top:3.4px;"></div>
<div class="c" style="width:185px;padding-top:3.4px;"></div>
<div class="c" style="width:186px;padding-top:3.4px;"></div>
<div class="c" style="width:186px;padding-top:3.4px;"></div>
</div>
<div class="row dk" style="left:109px;top:1706px;width:985px;height:29px;">
<div class="c l" style="width:242px;padding-left:12.7px;padding-top:5.8px;">Gross Sales</div>
<div class="c" style="width:186px;padding-top:3.4px;">$ 13,221,430</div>
<div class="c" style="width:185px;padding-top:3.4px;">$ 2,257,337</div>
<div class="c" style="width:186px;padding-top:3.4px;">$ 1,686,261</div>
<div class="c" style="width:186px;padding-top:3.4px;">$ 17,165,028</div>
</div>
<div class="row" style="left:109px;top:1735px;width:985px;height:29px;">
<div class="c l" style="width:242px;padding-left:22.3px;padding-top:5.8px;">Returns</div>
<div class="c" style="width:186px;padding-top:3.4px;">-$ 1,666,800</div>
<div class="c" style="width:185px;padding-top:3.4px;">$ 0</div>
<div class="c" style="width:186px;padding-top:3.4px;">-$ 177,082</div>
<div class="c" style="width:186px;padding-top:3.4px;">-$ 1,843,882</div>
</div>
<div class="row" style="left:109px;top:1764px;width:985px;height:29px;">
<div class="c l" style="width:242px;padding-left:22.3px;padding-top:5.8px;">PPB</div>
<div class="c" style="width:186px;padding-top:3.4px;">-$ 2,521,366</div>
<div class="c" style="width:185px;padding-top:3.4px;">-$ 662,021</div>
<div class="c" style="width:186px;padding-top:3.4px;">-$ 240,037</div>
<div class="c" style="width:186px;padding-top:3.4px;">-$ 3,423,425</div>
</div>
<div class="row" style="left:109px;top:1793px;width:985px;height:29px;">
<div class="c l" style="width:242px;padding-left:22.3px;padding-top:5.8px;">Plant</div>
<div class="c" style="width:186px;padding-top:3.4px;">-$ 245,664</div>
<div class="c" style="width:185px;padding-top:3.4px;">-$ 78,924</div>
<div class="c" style="width:186px;padding-top:3.4px;">-$ 118,116</div>
<div class="c" style="width:186px;padding-top:3.4px;">-$ 442,704</div>
</div>
<div class="row" style="left:109px;top:1822px;width:985px;height:29px;">
<div class="c l" style="width:242px;padding-left:22.3px;padding-top:5.8px;">Royalty</div>
<div class="c" style="width:186px;padding-top:3.4px;">-$ 30,921</div>
<div class="c" style="width:185px;padding-top:3.4px;">-$ 8,100</div>
<div class="c" style="width:186px;padding-top:3.4px;">-$ 784</div>
<div class="c" style="width:186px;padding-top:3.4px;">-$ 39,805</div>
</div>
<div class="row dk" style="left:109px;top:1851px;width:985px;height:29px;">
<div class="c l" style="width:242px;padding-left:12.7px;padding-top:5.8px;">COGS</div>
<div class="c" style="width:186px;padding-top:3.4px;">-$ 4,464,751</div>
<div class="c" style="width:185px;padding-top:3.4px;">-$ 749,045</div>
<div class="c" style="width:186px;padding-top:3.4px;">-$ 536,020</div>
<div class="c" style="width:186px;padding-top:3.4px;">-$ 5,749,816</div>
</div>
<div class="row dk" style="left:109px;top:1880px;width:985px;height:29px;">
<div class="c l" style="width:242px;padding-left:8px;padding-top:5.8px;">Contribution Profit</div>
<div class="c" style="width:186px;padding-top:3.4px;">$ 8,756,679</div>
<div class="c" style="width:185px;padding-top:3.4px;">$ 1,508,292</div>
<div class="c" style="width:186px;padding-top:3.4px;">$ 1,150,241</div>
<div class="c" style="width:186px;padding-top:3.4px;">$ 11,415,212</div>
</div>
<div class="row" style="left:109px;top:1909px;width:985px;height:30px;">
<div class="c l" style="width:242px;padding-left:8px;padding-top:5.8px;">Analytics</div>
<div class="c" style="width:186px;padding-top:3.4px;"></div>
<div class="c" style="width:185px;padding-top:3.4px;"></div>
<div class="c" style="width:186px;padding-top:3.4px;"></div>
<div class="c" style="width:186px;padding-top:3.4px;"></div>
</div>
<div class="row" style="left:109px;top:1939px;width:985px;height:29px;">
<div class="c l" style="width:242px;padding-left:22.3px;padding-top:5.8px;">Gross Margin %</div>
<div class="c" style="width:186px;padding-top:3.4px;">64.2%</div>
<div class="c" style="width:185px;padding-top:3.4px;">66.9%</div>
<div class="c" style="width:186px;padding-top:3.4px;">63.5%</div>
<div class="c" style="width:186px;padding-top:3.4px;">64.6%</div>
</div>
<div class="row" style="left:109px;top:1968px;width:985px;height:29px;">
<div class="c l" style="width:242px;padding-left:22.3px;padding-top:5.8px;">Avg Series GM %</div>
<div class="c" style="width:186px;padding-top:3.4px;"></div>
<div class="c" style="width:185px;padding-top:3.4px;"></div>
<div class="c" style="width:186px;padding-top:3.4px;"></div>
<div class="c" style="width:186px;padding-top:3.4px;"></div>
</div>
<div class="row" style="left:109px;top:1997px;width:985px;height:29px;">
<div class="c l" style="width:242px;padding-left:22.3px;padding-top:5.8px;">Avg Genre GM %</div>
<div class="c" style="width:186px;padding-top:3.4px;"></div>
<div class="c" style="width:185px;padding-top:3.4px;"></div>
<div class="c" style="width:186px;padding-top:3.4px;"></div>
<div class="c" style="width:186px;padding-top:3.4px;"></div>
</div>
<div class="row" style="left:109px;top:2026px;width:985px;height:29px;">
<div class="c l" style="width:242px;padding-left:22.3px;padding-top:5.8px;">Cumulative Units</div>
<div class="c" style="width:186px;padding-top:3.4px;">1,001,590</div>
<div class="c" style="width:185px;padding-top:3.4px;">237,177</div>
<div class="c" style="width:186px;padding-top:3.4px;">143,323</div>
<div class="c" style="width:186px;padding-top:3.4px;">1,382,090</div>
</div>
<svg class="abs" style="left:1100px;top:1500px" width="760" height="580" viewBox="1100 1500 760 580">
<path d="M1398.2 1788.0 L1398.20 1554.50 A233.5 233.5 0 1 1 1167.65 1824.97 Z" fill="#00bfd0" stroke="#fff" stroke-width="1.3" stroke-linejoin="round"/>
<path d="M1398.2 1788.0 L1167.65 1824.97 A233.5 233.5 0 0 1 1256.60 1602.34 Z" fill="#4a27a8" stroke="#fff" stroke-width="1.3" stroke-linejoin="round"/>
<path d="M1398.2 1788.0 L1256.60 1602.34 A233.5 233.5 0 0 1 1398.20 1554.50 Z" fill="#ff2d5a" stroke="#fff" stroke-width="1.3" stroke-linejoin="round"/>
<circle cx="1693.9" cy="1767" r="7" fill="#00bfd0"/>
<circle cx="1693.9" cy="1795" r="7" fill="#4a27a8"/>
<circle cx="1693.9" cy="1822.7" r="7" fill="#ff2d5a"/>
</svg>
<div class="t" style="font-size:15px;font-weight:bold;color:#333;left:1710.6px;top:1759.4px;">Language</div>
<div class="t" style="font-size:15px;font-weight:bold;color:#333;left:1710.6px;top:1787.4px;">Children</div>
<div class="t" style="font-size:15px;font-weight:bold;color:#333;left:1710.6px;top:1815.1px;">History</div>
</div></div>
</body>
</html>
